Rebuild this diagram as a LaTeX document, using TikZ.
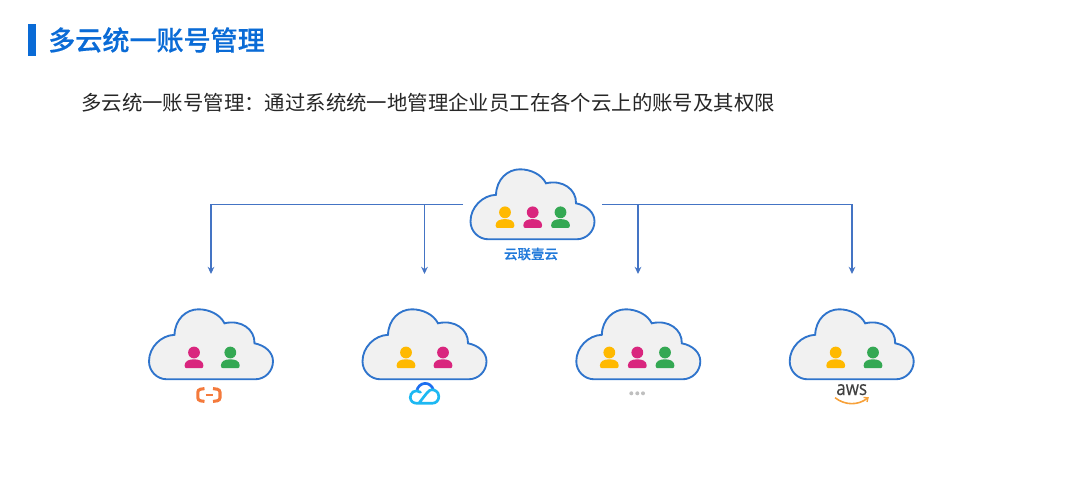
\documentclass[tikz,border=0pt]{standalone}
\usepackage{graphicx}
\usepackage{fontspec}
\setmainfont{Noto Sans CJK SC}
\newfontfamily\medfont[FakeBold=0.35]{Noto Sans CJK SC Medium}
\newfontfamily\awsfont[FakeBold=0.3]{Open Sans}
\definecolor{brand}{HTML}{0A6BD6}
\definecolor{outl}{HTML}{2F74CC}
\definecolor{cfill}{HTML}{F1F1F1}
\definecolor{conn}{HTML}{4474C4}
\definecolor{pyellow}{HTML}{FFB900}
\definecolor{ppink}{HTML}{D9267E}
\definecolor{pgreen}{HTML}{34A853}
\definecolor{orng}{HTML}{F47A3C}
\definecolor{smile}{HTML}{F7A13A}
\definecolor{tblue}{HTML}{1E6FF0}
\definecolor{tcyan}{HTML}{1DB8F2}
\usetikzlibrary{arrows.meta}
\tikzset{
  x=.75pt,y=-.75pt,
  link/.style={draw=conn,line width=1.3pt},
  tip/.style={link,-{Stealth[length=5.4pt,width=5pt]}},
  cloudshape/.pic={
    \draw[draw=outl,fill=cfill,line width=1.4pt]
      (-44,0) .. controls (-54,0) and (-62,-8) .. (-62,-18)
      .. controls (-62,-32) and (-50,-44) .. (-36.5,-44.5)
      .. controls (-36,-60) and (-25,-70) .. (-12.5,-70)
      .. controls (-2,-70) and (9,-65) .. (13.5,-56)
      .. controls (30,-60) and (44,-50) .. (43.5,-36)
      .. controls (54,-34) and (62,-27) .. (62,-18)
      .. controls (62,-8) and (54,0) .. (44,0) -- cycle;
  },
  personshape/.pic={
    \fill[pic actions] (0,0) circle (5.9);
    \fill[pic actions] (-9.4,13) .. controls (-9.4,8.5) and (-5,6.8) .. (0,6.8)
      .. controls (5,6.8) and (9.4,8.5) .. (9.4,13)
      .. controls (9.4,15) and (8.5,15.6) .. (7.5,15.6) -- (-7.5,15.6)
      .. controls (-8.5,15.6) and (-9.4,15) .. (-9.4,13) -- cycle;
  },
}
\begin{document}
\begin{tikzpicture}
\useasboundingbox (0,0) rectangle (1080,497);
\fill[brand] (28,24) rectangle (35.5,56);
\node[anchor=west,inner sep=0,text=brand,font=\fontsize{20.3pt}{24pt}\medfont] (title) at (48,40) {多云统一账号管理};
\node[anchor=west,inner sep=0,text=black!85,font=\fontsize{15.3pt}{18pt}\selectfont] (sub) at (81,103) {多云统一账号管理：通过系统统一地管理企业员工在各个云上的账号及其权限};

\coordinate (hubL) at (463,204.5);
\coordinate (hubR) at (602,204.5);
\coordinate (a1) at (211,274);
\coordinate (a2) at (424.5,274);
\coordinate (a3) at (638,274);
\coordinate (a4) at (852,274);
\coordinate (b2) at (424.5,204.5);
\coordinate (b3) at (638,204.5);
\draw[tip] (hubL) -| (a1);
\draw[tip] (b2) -- (a2);
\draw[tip] (hubR) -| (a4);
\draw[tip] (b3) -- (a3);

\pic at (532.5,239.3) {cloudshape};
\pic at (211,379.3) {cloudshape};
\pic at (424.5,379.3) {cloudshape};
\pic at (638.3,379.3) {cloudshape};
\pic at (851.7,379.3) {cloudshape};

\pic[fill=pyellow] at (505,212.3) {personshape};
\pic[fill=ppink] at (532.7,212.3) {personshape};
\pic[fill=pgreen] at (560.5,212.3) {personshape};
\pic[fill=ppink] at (194,352.5) {personshape};
\pic[fill=pgreen] at (230.3,352.5) {personshape};
\pic[fill=pyellow] at (406,352.5) {personshape};
\pic[fill=ppink] at (443,352.5) {personshape};
\pic[fill=pyellow] at (609.3,352.5) {personshape};
\pic[fill=ppink] at (637.3,352.5) {personshape};
\pic[fill=pgreen] at (665,352.5) {personshape};
\pic[fill=pyellow] at (835.7,352.5) {personshape};
\pic[fill=pgreen] at (873,352.5) {personshape};

\node[inner sep=0,text=brand!90!white,font=\fontsize{10.1pt}{12pt}\medfont] (hub) at (531,254) {云联壹云};

% Alibaba
\draw[orng,line width=2.3pt,rounded corners=2pt] (204.5,388.6) -- (197.8,389.6) -- (197.8,400.4) -- (204.5,401.4);
\draw[orng,line width=2.3pt,rounded corners=2pt] (213,388.6) -- (220,389.6) -- (220,400.4) -- (213,401.4);
\draw[orng,line width=1.2pt] (205.5,395) -- (212.5,395);
% dots
\fill[gray!50] (631.3,393.3) circle (2) (637.3,393.3) circle (2) (643,393.3) circle (2);
% aws
\node[anchor=base,inner sep=0,text=black!75,font=\fontsize{15pt}{15pt}\awsfont] (aws) at (851.7,395) {\scalebox{.85}[1]{aws}};
\draw[smile,line width=1.2pt] (835,397.7) .. controls (845,405.5) and (858,405.5) .. (867,398.5);
\draw[smile,line width=1pt] (863.5,397.5) -- (868,397.8) -- (867,402);
% tencent
\draw[tblue,line width=2pt] (416.7,391.5) .. controls (418,381.5) and (431,380.5) .. (433.3,390);
\draw[tcyan,line width=2pt,line cap=round] (420.5,392.2) .. controls (415,388.5) and (410,393) .. (410.3,397.5) .. controls (410.5,401) and (413,403.3) .. (417,403.3) -- (432,403.3) .. controls (436,403.3) and (438.8,400.5) .. (438.8,396.5) .. controls (438.8,391.5) and (434.5,389.5) .. (431.5,389.8) .. controls (428.5,390) and (427,393) .. (419,403);
\end{tikzpicture}
\end{document}
